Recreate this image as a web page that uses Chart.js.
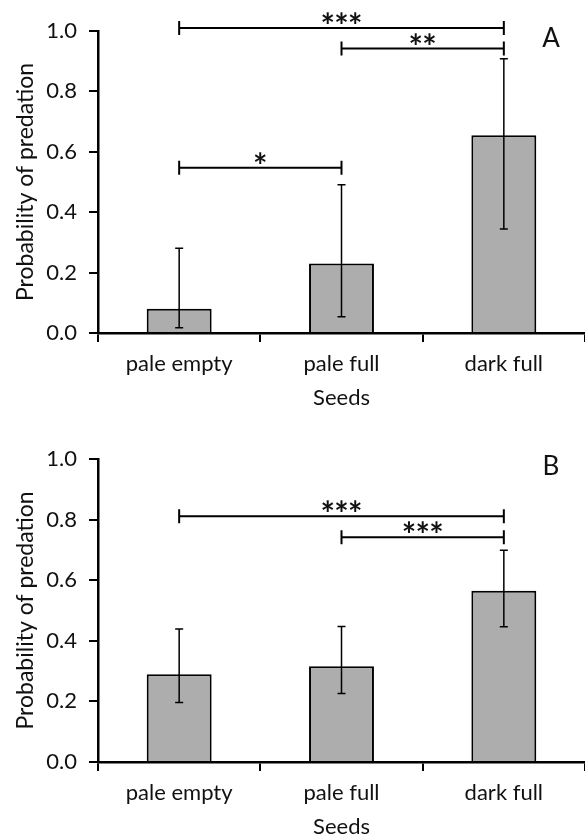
<!DOCTYPE html>
<html>
<head>
<meta charset="utf-8">
<script src="https://cdn.jsdelivr.net/npm/chart.js@4.4.0/dist/chart.umd.min.js"></script>
<style>
  body { margin: 0; background: #fff; overflow: hidden; }
  .painel { position: absolute; left: 0; width: 585px; }
</style>
</head>
<body>
<div class="painel" style="top:0;height:428px"><canvas id="graficoA"></canvas></div>
<div class="painel" style="top:428px;height:408px"><canvas id="graficoB"></canvas></div>
<script>
var categorias = ["pale empty", "pale full", "dark full"];
var ticksY = [0, 0.2, 0.4, 0.6, 0.8, 1.0];

// painel A
var mediaA = [0.08, 0.23, 0.655];
var erroBaixoA = [0.017, 0.054, 0.344];
var erroAltoA = [0.281, 0.491, 0.908];
// comparacoes: [de, ate, altura, rotulo]
var sigA = [[0, 2, 1.01, "***"], [1, 2, 0.942, "**"], [0, 1, 0.547, "*"]];

// painel B
var mediaB = [0.29, 0.316, 0.565];
var erroBaixoB = [0.196, 0.226, 0.446];
var erroAltoB = [0.439, 0.447, 0.699];
var sigB = [[0, 2, 0.811, "***"], [1, 2, 0.742, "***"]];

var fonte = "Lato";

// desenha barras de erro, colchetes de significancia e a letra do painel
var extras = {
  id: "extras",
  afterDatasetsDraw: function (chart, args, opts) {
    var ctx = chart.ctx, x = chart.scales.x, y = chart.scales.y;
    ctx.save();
    ctx.strokeStyle = "#000";
    ctx.fillStyle = "#111";
    ctx.lineWidth = 1.5;
    opts.baixo.forEach(function (b, i) {
      var px = x.getPixelForValue(i);
      var y1 = y.getPixelForValue(b), y2 = y.getPixelForValue(opts.alto[i]);
      ctx.beginPath();
      ctx.moveTo(px, y1); ctx.lineTo(px, y2);
      ctx.moveTo(px - 4, y1); ctx.lineTo(px + 4, y1);
      ctx.moveTo(px - 4, y2); ctx.lineTo(px + 4, y2);
      ctx.stroke();
    });

    ctx.lineWidth = 2;
    ctx.font = "bold 34px " + fonte;
    ctx.textAlign = "center";
    ctx.textBaseline = "alphabetic";
    opts.sig.forEach(function (s) {
      var xa = x.getPixelForValue(s[0]), xb = x.getPixelForValue(s[1]);
      var py = y.getPixelForValue(s[2]);
      ctx.beginPath();
      ctx.moveTo(xa, py); ctx.lineTo(xb, py);
      ctx.moveTo(xa, py - 7); ctx.lineTo(xa, py + 7);
      ctx.moveTo(xb, py - 7); ctx.lineTo(xb, py + 7);
      ctx.stroke();
      var meio = (xa + xb) / 2, n = s[3].length;
      for (var k = 0; k < n; k++) {
        ctx.fillText("*", meio + (k - (n - 1) / 2) * 13.7, py + 10);
      }
    });

    ctx.font = "26px " + fonte;
    ctx.textBaseline = "middle";
    ctx.fillText(opts.letra, 551, chart.chartArea.top + 8);
    ctx.restore();
  }
};

function criarGrafico(id, media, baixo, alto, sig, letra, alturaX, padTitulo) {
  return new Chart(document.getElementById(id).getContext("2d"), {
    type: "bar",
    data: {
      labels: categorias,
      datasets: [{
        data: media,
        backgroundColor: "#adadad",
        borderColor: "#000",
        borderWidth: 2,
        barPercentage: 0.4,
        categoryPercentage: 1
      }]
    },
    plugins: [extras],
    options: {
      responsive: true,
      maintainAspectRatio: false,
      animation: false,
      layout: { padding: { top: 31, right: 0, left: 0, bottom: 0 } },
      plugins: {
        legend: { display: false },
        tooltip: { enabled: false },
        extras: { baixo: baixo, alto: alto, sig: sig, letra: letra }
      },
      scales: {
        x: {
          grid: { offset: true, drawOnChartArea: false, color: "#000", lineWidth: 2, tickLength: 9 },
          border: { color: "#000", width: 2.5 },
          ticks: { color: "#111", font: { family: fonte, size: 22 }, padding: 9 },
          title: {
            display: true, text: "Seeds", color: "#111",
            font: { family: fonte, size: 22, lineHeight: 0.8 },
            padding: { top: 0, bottom: padTitulo }
          },
          afterFit: function (s) { s.height = alturaX; }
        },
        y: {
          min: 0,
          max: 1,
          afterBuildTicks: function (s) { s.ticks = ticksY.map(function (v) { return { value: v }; }); },
          grid: { drawOnChartArea: false, color: "#000", lineWidth: 2, tickLength: 9 },
          border: { color: "#000", width: 2.5 },
          ticks: {
            color: "#111", font: { family: fonte, size: 22 }, padding: 12,
            callback: function (v) { return v.toFixed(1); }
          },
          title: {
            display: true, text: "Probability of predation", color: "#111",
            font: { family: fonte, size: 23 },
            padding: { top: 12, bottom: 0 }
          },
          afterFit: function (s) { s.width = 98; }
        }
      }
    }
  });
}

criarGrafico("graficoA", mediaA, erroBaixoA, erroAltoA, sigA, "A", 95, 21.6);
criarGrafico("graficoB", mediaB, erroBaixoB, erroAltoB, sigB, "B", 74, 0.6);
</script>
</body>
</html>
